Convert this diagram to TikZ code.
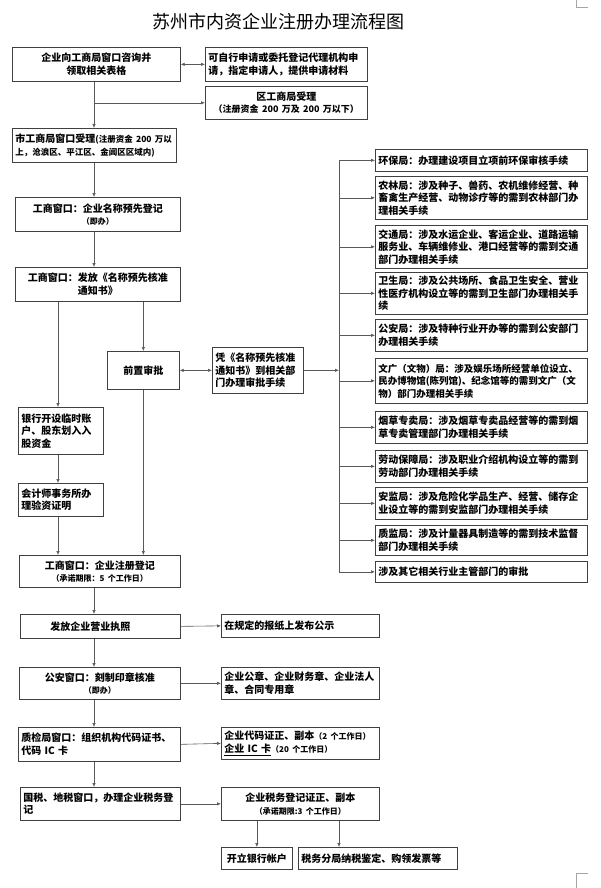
\documentclass[tikz,border=0pt]{standalone}
\usepackage{fontspec}
\setmainfont{Noto Sans CJK SC}
\usetikzlibrary{arrows.meta}
\tikzset{
  box/.style={draw=black!75, line width=0.7pt, inner xsep=3pt, inner ysep=0pt, anchor=north west, font=\fontsize{10}{12.5}\selectfont\bfseries},
  arr/.style={draw=black!65, line width=0.6pt, -{Latex[length=4pt,width=3.4pt]}},
  biarr/.style={draw=black!65, line width=0.6pt, {Latex[length=4pt,width=3.4pt]}-{Latex[length=4pt,width=3.4pt]}},
  plainline/.style={draw=black!65, line width=0.6pt},
  cornermark/.style={draw=black!35, line width=0.5pt},
}
\newcommand\smsz{\fontsize{8}{10}\selectfont}
\newcommand\midsz{\fontsize{8.5}{11}\selectfont}
\newcommand\rbox[4]{\node[box, text width=206pt, minimum height=#3pt, align=left] (#1) at (375,#2) {#4};}
\begin{document}
\begin{tikzpicture}[x=1pt,y=-1pt]
\useasboundingbox (0,0) rectangle (600,888);
\draw[cornermark] (576,0) -- (576,7) -- (588,7);
\draw[cornermark] (576,888) -- (576,873) -- (588,873);

\node[font=\fontsize{18}{20}\selectfont] (title) at (278,22) {苏州市内资企业注册办理流程图};

\coordinate (spine) at (94,0);
\coordinate (lft) at (58,0);
\coordinate (bus) at (339,0);

\node[box, text width=162pt, minimum height=34pt, align=center] (A) at (12,47) {企业向工商局窗口咨询并\\领取相关表格};
\node[box, text width=156pt, minimum height=34pt, align=left] (B) at (205,47) {可自行申请或委托登记代理机构申\\请，指定申请人，提供申请材料};
\node[box, text width=156pt, minimum height=33pt, align=center] (C) at (205,86) {区工商局受理\\{\fontsize{9}{11}\selectfont（注册资金 200 万及 200 万以下）}};
\node[box, text width=158pt, minimum height=34pt, align=left] (D) at (12,128) {市工商局窗口受理{\midsz(注册资金 200 万以}\\{\midsz 上，沧浪区、平江区、金阊区区域内)}};
\node[box, text width=159pt, minimum height=34pt, align=center] (E) at (15,197) {工商窗口：企业名称预先登记\\{\smsz（即办）}};
\node[box, text width=159pt, minimum height=34pt, align=center] (F) at (15,267) {工商窗口：发放《名称预先核准\\通知书》};
\node[box, text width=66pt, minimum height=38pt, align=center] (P) at (107,351) {前置审批};
\node[box, text width=85pt, minimum height=46pt, align=left] (Q) at (212,347) {凭《名称预先核准\\通知书》到相关部\\门办理审批手续};
\node[box, text width=79pt, minimum height=47pt, align=left] (R) at (18,407) {银行开设临时账\\户、股东划入入\\股资金};
\node[box, text width=79pt, minimum height=33pt, align=left] (S) at (18,483) {会计师事务所办\\理验资证明};
\node[box, text width=155pt, minimum height=32pt, align=center] (G) at (19,555) {工商窗口：企业注册登记\\{\smsz（承诺期限：5 个工作日）}};
\node[box, text width=154pt, minimum height=24pt, align=left] (H) at (20,614) {\hspace*{27pt}发放企业营业执照};
\node[box, text width=152pt, minimum height=23pt, align=left] (I) at (221,614) {在规定的报纸上发布公示};
\node[box, text width=155pt, minimum height=32pt, align=center] (J) at (19,667) {公安窗口：刻制印章核准\\{\smsz（即办）}};
\node[box, text width=152pt, minimum height=32pt, align=left] (K) at (221,667) {企业公章、企业财务章、企业法人\\章、合同专用章};
\node[box, text width=156pt, minimum height=34pt, align=left] (L) at (18,727) {质检局窗口：组织机构代码证书、\\代码 IC 卡};
\node[box, text width=152pt, minimum height=32pt, align=left] (L2) at (221,727) {企业代码证正、副本{\smsz（2 个工作日）}\\\underline{企业 IC 卡}{\smsz（20 个工作日）}};
\node[box, text width=154pt, minimum height=33pt, align=left] (M) at (20,787) {国税、地税窗口，办理企业税务登\\记};
\node[box, text width=152pt, minimum height=33pt, align=center] (M2) at (221,787) {企业税务登记证正、副本\\{\smsz（承诺期限:3 个工作日）}};
\node[box, text width=65pt, minimum height=22pt, align=center] (N) at (221,847) {开立银行帐户};
\node[box, text width=153pt, minimum height=22pt, align=left] (O) at (298,847) {税务分局纳税鉴定、购领发票等};

\rbox{R1}{149}{22}{环保局：办理建设项目立项前环保审核手续}
\rbox{R2}{176}{43}{农林局：涉及种子、兽药、农机维修经营、种\\畜禽生产经营、动物诊疗等的需到农林部门办\\理相关手续}
\rbox{R3}{225}{43}{交通局：涉及水运企业、客运企业、道路运输\\服务业、车辆维修业、港口经营等的需到交通\\部门办理相关手续}
\rbox{R4}{272}{42}{卫生局：涉及公共场所、食品卫生安全、营业\\性医疗机构设立等的需到卫生部门办理相关手\\续}
\rbox{R5}{319}{32}{公安局：涉及特种行业开办等的需到公安部门\\办理相关手续}
\rbox{R6}{358}{45}{\fontsize{9.5}{12.5}\selectfont 文广（文物）局：涉及娱乐场所经营单位设立、\\民办博物馆(陈列馆)、纪念馆等的需到文广（文\\物）部门办理相关手续}
\rbox{R7}{411}{32}{烟草专卖局：涉及烟草专卖品经营等的需到烟\\草专卖管理部门办理相关手续}
\rbox{R8}{450}{32}{劳动保障局：涉及职业介绍机构设立等的需到\\劳动部门办理相关手续}
\rbox{R9}{487}{32}{安监局：涉及危险化学品生产、经营、储存企\\业设立等的需到安监部门办理相关手续}
\rbox{R10}{525}{30}{质监局：涉及计量器具制造等的需到技术监督\\部门办理相关手续}
\rbox{R11}{561}{21}{涉及其它相关行业主管部门的审批}

% connectors
\draw[biarr] (A.east) -- (B.west);
\draw[arr] (A.south -| spine) -- (D.north -| spine);
\draw[arr] (C.west -| spine) -- (C.west);
\draw[arr] (D.south -| spine) -- (E.north -| spine);
\draw[arr] (E.south -| spine) -- (F.north -| spine);
\draw[arr] (F.south -| lft) -- (R.north -| lft);
\draw[arr] (F.south -| P.north) -- (P.north);
\draw[biarr] (P.east) -- (Q.west);
\draw[arr] (Q.east) -- (Q.east -| bus);
\draw[plainline] (R1.west -| bus) -- (R11.west -| bus);
\foreach \k in {R1,R2,R3,R4,R5,R6,R7,R8,R9,R10,R11}{
  \draw[arr] (\k.west -| bus) -- (\k.west);
}
\draw[arr] (R.south -| lft) -- (S.north -| lft);
\draw[arr] (S.south -| lft) -- (G.north -| lft);
\draw[arr] (P.south) -- (G.north -| P.south);
\draw[arr] (G.south -| spine) -- (H.north -| spine);
\draw[arr] (H.east) -- (I.west);
\draw[arr] (H.south -| spine) -- (J.north -| spine);
\draw[arr] (J.east) -- (K.west);
\draw[arr] (J.south -| spine) -- (L.north -| spine);
\draw[arr] (L.east) -- (L2.west);
\draw[arr] (L.south -| spine) -- (M.north -| spine);
\draw[arr] (M.east) -- (M2.west);
\draw[arr] (M2.south -| N.north) -- (N.north);
\draw[arr] (M2.south -| bus) -- (O.north -| bus);
\end{tikzpicture}
\end{document}
